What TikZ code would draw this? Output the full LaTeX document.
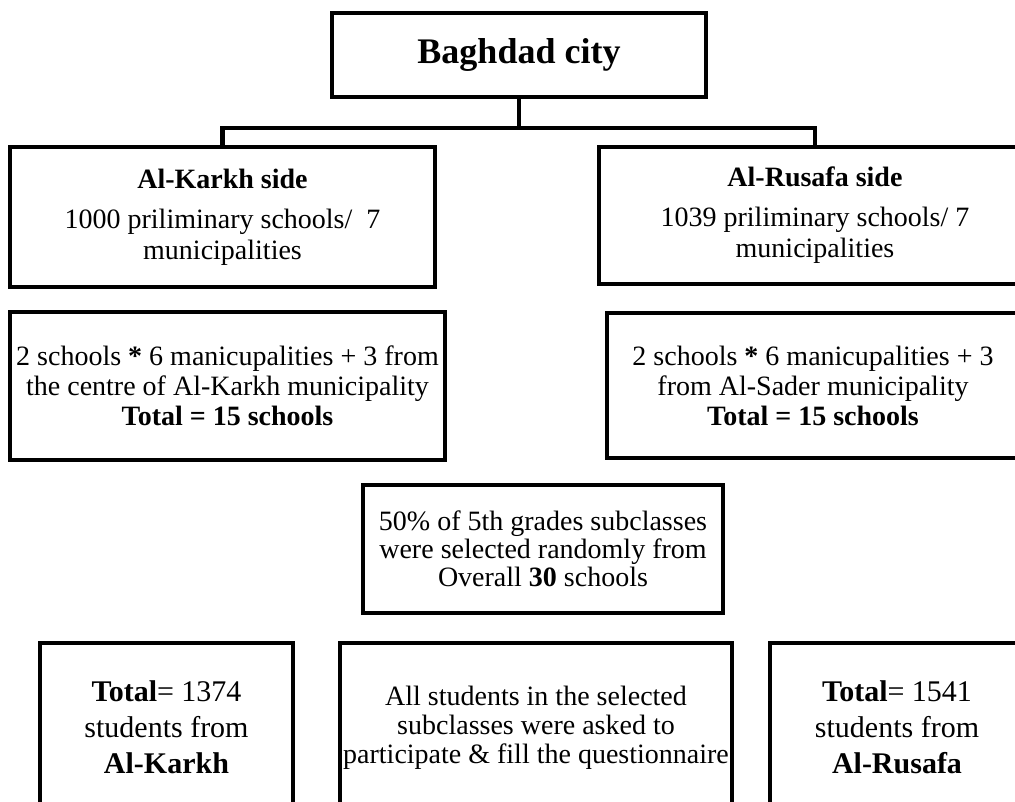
\documentclass[tikz,border=0pt]{standalone}
\usepackage{fontspec}
\setmainfont{Liberation Serif}
\begin{document}
\begin{tikzpicture}[x=1pt, y=-1pt,
    box/.style={draw, line width=4.5pt, align=center, inner sep=0pt,
      outer sep=0pt, font=\fontsize{28}{30}\selectfont},
    lowbox/.style={box, anchor=north, inner ysep=38pt,
      font=\fontsize{30}{36}\selectfont}]
    \useasboundingbox (0,0) rectangle (1015,802);
    \clip (0,0) rectangle (1015,802);
    % top of the tree
    \node[box, minimum width=374pt, minimum height=84pt,
      font=\fontsize{36}{40}\selectfont\bfseries] (city) at (519,55)
      {Baghdad city};
    \node[box, minimum width=425pt, minimum height=140pt,
      font=\fontsize{28}{31}\selectfont] (karkh) at (222.5,217)
      {\textbf{Al-Karkh side}\\[9pt] 1000 priliminary schools/\ \ 7\\ municipalities};
    \node[box, minimum width=432pt, minimum height=137pt,
      font=\fontsize{28}{31}\selectfont] (rusafa) at (815,215.5)
      {\textbf{Al-Rusafa side}\\[9pt] 1039 priliminary schools/ 7\\ municipalities};
    \coordinate (split) at (519,128);
    \draw[line width=4.5pt] (city.south) -- (split);
    \draw[line width=4.5pt] (karkh.north) |- (split) -| (rusafa.north);
    % sampled schools
    \node[box, minimum width=435pt, minimum height=148pt] (karkhSch) at (227.5,386)
      {2 schools \textbf{*} 6 manicupalities + 3 from\\
       the centre of Al-Karkh municipality\\ \textbf{Total = 15 schools}};
    \node[box, minimum width=412pt, minimum height=145pt] (rusafaSch) at (813,385.5)
      {2 schools \textbf{*} 6 manicupalities + 3\\
       from Al-Sader municipality\\ \textbf{Total = 15 schools}};
    \node[box, minimum width=360pt, minimum height=128pt,
      font=\fontsize{28}{28}\selectfont] (subcl) at (543,549)
      {50\% of 5th grades subclasses\\ were selected randomly from\\
       Overall \textbf{30} schools};
    % students
    \node[lowbox, minimum width=253pt] (karkhStd) at (166.5,643)
      {\textbf{Total}= 1374\\ students from\\ \textbf{Al-Karkh}};
    \node[lowbox, minimum width=392pt, inner ysep=43pt,
      font=\fontsize{28}{29}\selectfont] (allStd) at (536,643)
      {All students in the selected\\ subclasses were asked to\\
       participate \& fill the questionnaire};
    \node[lowbox, minimum width=254pt] (rusafaStd) at (897,643)
      {\textbf{Total}= 1541\\ students from\\ \textbf{Al-Rusafa}};
  \end{tikzpicture}
\end{document}
